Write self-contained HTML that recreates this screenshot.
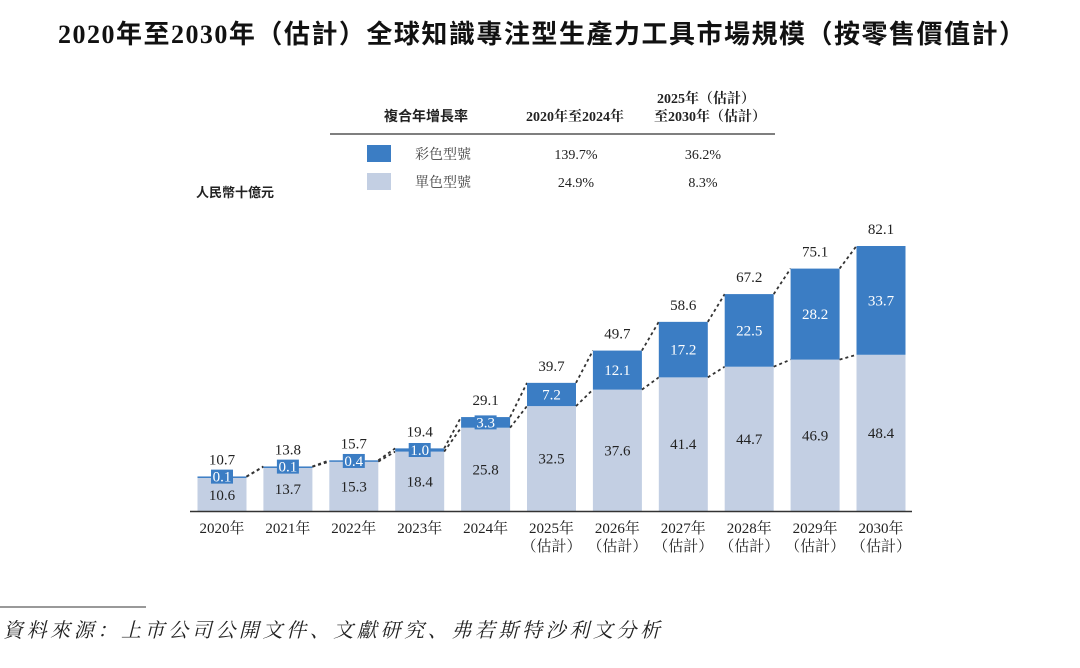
<!DOCTYPE html>
<html><head><meta charset="utf-8">
<style>
body{margin:0;background:#fff;width:1080px;height:663px;overflow:hidden;font-family:"Liberation Serif","Noto Serif CJK SC",serif;}
</style></head>
<body>
<svg width="1080" height="663" xmlns="http://www.w3.org/2000/svg">
<text x="58" y="43" textLength="967" lengthAdjust="spacing" font-size="26" font-weight="bold" fill="#111" font-family="Liberation Serif, Noto Sans CJK SC, sans-serif">2020年至2030年（估計）全球知識專注型生產力工具市場規模（按零售價值計）</text>
<g font-size="14" fill="#222">
<text x="426" y="121" text-anchor="middle" font-weight="bold" font-family="Liberation Sans, Noto Sans CJK SC, sans-serif">複合年增長率</text>
<text x="575" y="121" text-anchor="middle" font-weight="bold">2020年至2024年</text>
<text x="706" y="103" text-anchor="middle" font-weight="bold">2025年（估計）</text>
<text x="710" y="121" text-anchor="middle" font-weight="bold">至2030年（估計）</text>
<line x1="330" y1="134" x2="775" y2="134" stroke="#555" stroke-width="1.5"/>
<rect x="367" y="145" width="24" height="17" fill="#3b7dc4"/>
<text x="443" y="159" text-anchor="middle" fill="#444">彩色型號</text>
<text x="576" y="159" text-anchor="middle">139.7%</text>
<text x="703" y="159" text-anchor="middle">36.2%</text>
<rect x="367" y="173" width="24" height="17" fill="#c3cfe3"/>
<text x="443" y="187" text-anchor="middle" fill="#444">單色型號</text>
<text x="576" y="187" text-anchor="middle">24.9%</text>
<text x="703" y="187" text-anchor="middle">8.3%</text>
</g>
<text x="196" y="197" font-size="13" font-weight="bold" fill="#222" font-family="Liberation Sans, Noto Sans CJK SC, sans-serif">人民幣十億元</text>
<g id="plot"></g>
<line x1="190" y1="511.5" x2="912" y2="511.5" stroke="#333" stroke-width="1.5"/>
<line x1="0" y1="607" x2="146" y2="607" stroke="#333" stroke-width="1"/>
<text x="3" y="637" textLength="657" lengthAdjust="spacing" font-size="20" font-style="italic" fill="#222">資料來源：上市公司公開文件、文獻研究、弗若斯特沙利文分析</text>
</svg>
<script>
const years=["2020年","2021年","2022年","2023年","2024年","2025年","2026年","2027年","2028年","2029年","2030年"];
const estimated=[false,false,false,false,false,true,true,true,true,true,true];
const mono=[10.6,13.7,15.3,18.4,25.8,32.5,37.6,41.4,44.7,46.9,48.4];
const color=[0.1,0.1,0.4,1.0,3.3,7.2,12.1,17.2,22.5,28.2,33.7];
const totals=[10.7,13.8,15.7,19.4,29.1,39.7,49.7,58.6,67.2,75.1,82.1];
const NS="http://www.w3.org/2000/svg";
const g=document.getElementById('plot');
const base=511,scale=265/82.1,x0=222,step=65.9,bw=49;
const y=v=>base-v*scale, xc=i=>x0+i*step;
function mk(t,a){const e=document.createElementNS(NS,t);for(const k in a)e.setAttribute(k,a[k]);g.appendChild(e);return e;}
years.forEach((yr,i)=>{
 const cx=xc(i),tot=mono[i]+color[i];
 const m=mk('rect',{x:cx-bw/2,y:y(mono[i]),width:bw,height:mono[i]*scale,fill:'#c3cfe3'});
 
 
 const c=mk('rect',{x:cx-bw/2,y:y(tot),width:bw,height:Math.max(color[i]*scale,1.5),fill:'#3b7dc4'});
 
 
 const cy=y(tot)+color[i]*scale/2;
 if(color[i]*scale<16){const b=mk('rect',{x:cx-11,y:cy-7,width:22,height:14,fill:'#3b7dc4'});
  
  }
 const tc=mk('text',{x:cx,y:cy+5,'text-anchor':'middle','font-size':15,fill:'#fff'});tc.textContent=color[i].toFixed(1);
 
 
 const mv=y(mono[i])+mono[i]*scale/2+(color[i]*scale<16&&mono[i]*scale<40?6:5);
 const tm=mk('text',{x:cx,y:mv,'text-anchor':'middle','font-size':15,fill:'#222'});tm.textContent=mono[i].toFixed(1);
 
 
 const tt=mk('text',{x:cx,y:y(totals[i])-12,'text-anchor':'middle','font-size':15,fill:'#222'});tt.textContent=totals[i].toFixed(1);
 
 
 const ty=mk('text',{x:cx,y:533,'text-anchor':'middle','font-size':15,fill:'#222'});ty.textContent=yr;
 
 
 if(estimated[i]){const te=mk('text',{x:cx,y:551,'text-anchor':'middle','font-size':15,fill:'#222'});te.textContent='（估計）';
  
  }
 if(i<years.length-1){
  const n=i+1,nt=mono[n]+color[n];
  const l1=mk('line',{x1:cx+bw/2,y1:y(tot),x2:xc(n)-bw/2,y2:y(nt),stroke:'#333','stroke-width':1.8,'stroke-dasharray':'3,3'});
  
  
  const l2=mk('line',{x1:cx+bw/2,y1:y(mono[i]),x2:xc(n)-bw/2,y2:y(mono[n]),stroke:'#333','stroke-width':1.8,'stroke-dasharray':'3,3'});
  
  
 }
});
</script>
</body></html>
